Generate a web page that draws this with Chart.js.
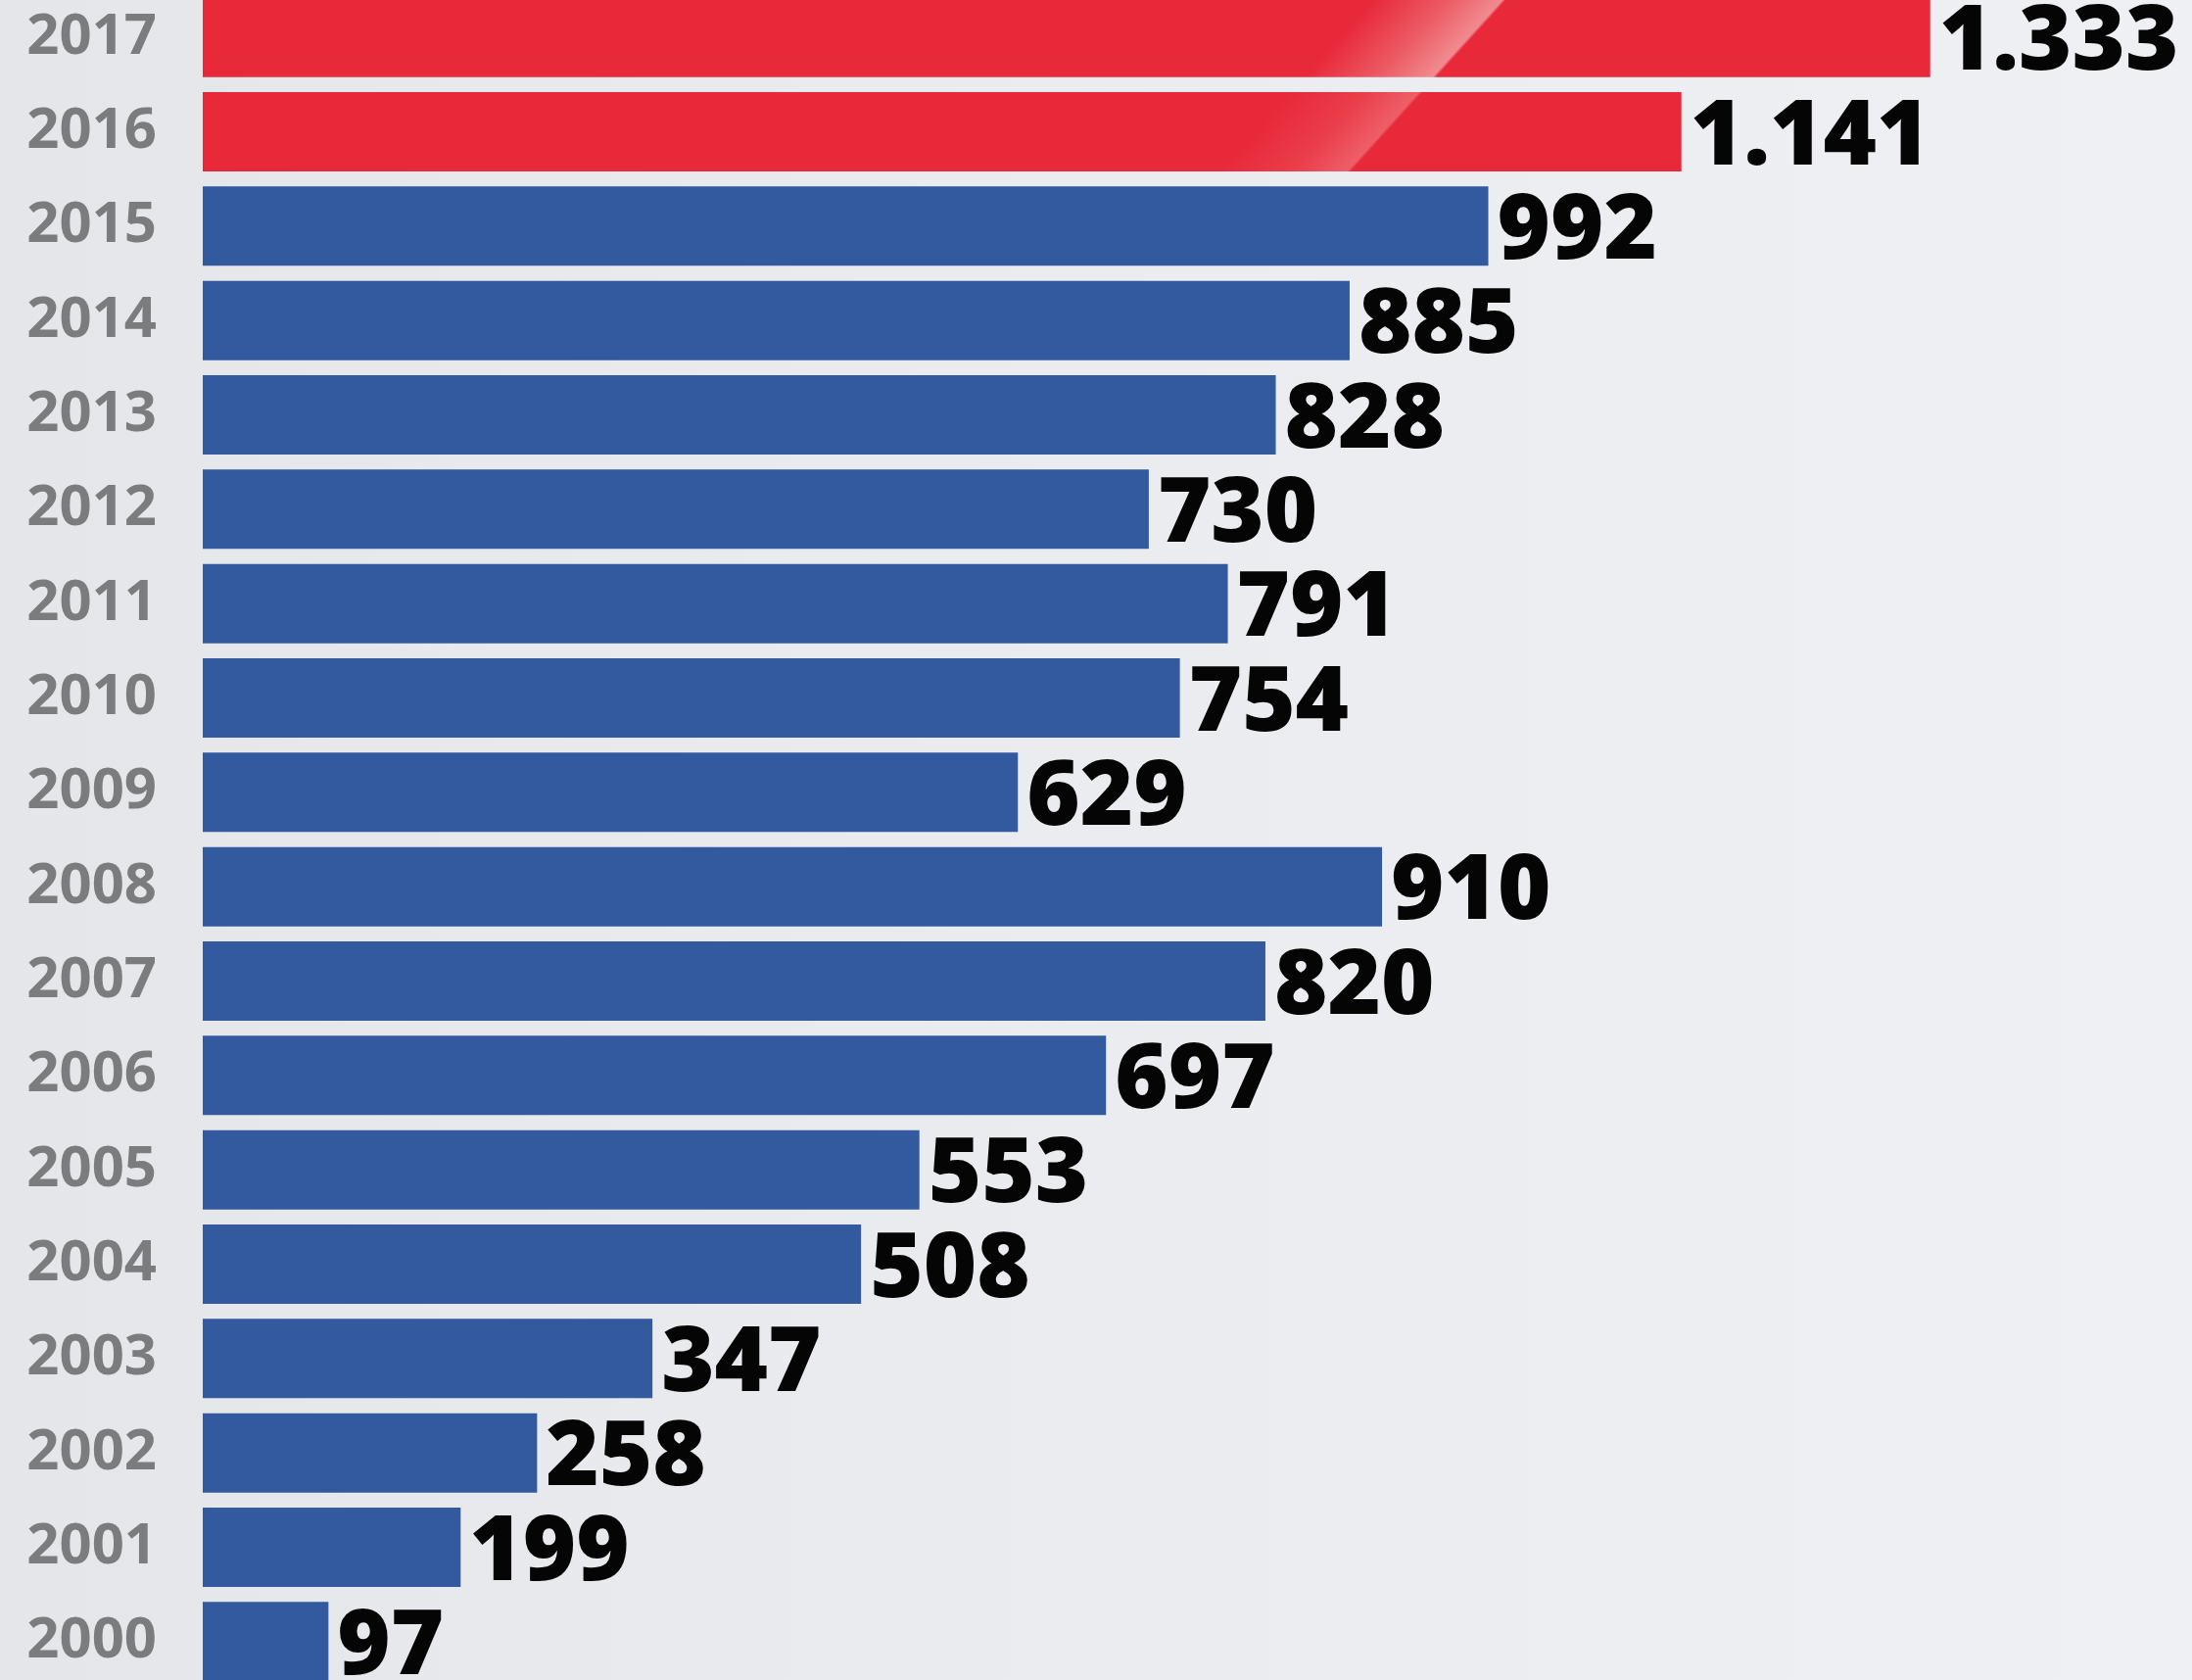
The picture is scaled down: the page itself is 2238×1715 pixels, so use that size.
<!DOCTYPE html>
<html>
<head>
<meta charset="utf-8">
<script src="https://cdn.jsdelivr.net/npm/chart.js@4.4.0/dist/chart.umd.min.js"></script>
<style>
  html, body { margin: 0; padding: 0; overflow: hidden; }
  body { width: 2238px; height: 1715px; position: relative;
         background: linear-gradient(90deg, #e5e6e9 0%, #eaebee 40%, #eff0f3 100%); }
  #wrap { position: absolute; left: 0; top: -10px; width: 2238px; height: 1734px; }
</style>
</head>
<body>
<div id="wrap"><canvas id="chart" width="2238" height="1734"></canvas></div>
<script>
// ── Data ──────────────────────────────────────────────────────
const years  = ['2017', '2016', '2015', '2014', '2013', '2012', '2011', '2010', '2009',
                '2008', '2007', '2006', '2005', '2004', '2003', '2002', '2001', '2000'];
const counts = [1333, 1141, 992, 885, 828, 730, 791, 754, 629,
                910, 820, 697, 553, 508, 347, 258, 199, 97];
const highlightYears = ['2017', '2016'];

const RED  = '#e8293a';
const BLUE = '#33599e';

// 1333 -> "1.333"
const fmt = n => String(n).replace(/\B(?=(\d{3})+(?!\d))/g, '.');

// red bars get a diagonal glare stripe, fainter on the second one
function barFill(c) {
  const y = years[c.dataIndex];
  if (!highlightYears.includes(y)) return BLUE;
  const g = c.chart.ctx.createLinearGradient(1403, 10, 1477, 77);
  const top = c.dataIndex === 0;
  g.addColorStop(0, RED);
  g.addColorStop(0.55, top ? '#ec5a63' : '#ea3d4a');
  g.addColorStop(0.97, top ? '#f18b90' : '#ee5f68');
  g.addColorStop(1, RED);
  return g;
}

// ── Value labels at bar ends ──────────────────────────────────
const valueLabels = {
  id: 'valueLabels',
  afterDatasetsDraw(chart) {
    const { ctx } = chart;
    const meta = chart.getDatasetMeta(0);
    ctx.save();
    ctx.font = '800 93px "Open Sans"';
    ctx.fillStyle = '#050505';
    ctx.textAlign = 'left';
    ctx.textBaseline = 'alphabetic';
    meta.data.forEach((bar, i) => {
      ctx.fillText(fmt(counts[i]), bar.x + 9, bar.y + 33);
    });
    ctx.restore();
  }
};

new Chart(document.getElementById('chart'), {
  type: 'bar',
  data: {
    labels: years,
    datasets: [{
      data: counts,
      backgroundColor: barFill,
      borderWidth: 0,
      categoryPercentage: 1,
      barPercentage: 0.84,
    }]
  },
  options: {
    indexAxis: 'y',
    responsive: false,
    animation: false,
    devicePixelRatio: 1,
    layout: { padding: 0 },
    plugins: { legend: { display: false }, tooltip: { enabled: false } },
    scales: {
      x: { display: false, min: 0, max: 1535 },
      y: {
        afterFit: s => { s.width = 207; s.paddingTop = 0; s.paddingBottom = 0; },
        border: { display: false },
        grid: { display: false, drawTicks: false },
        ticks: {
          padding: 47,
          color: '#7b7c7d',
          font: { family: '"Open Sans"', weight: 'bold', size: 58 }
        }
      }
    }
  },
  plugins: [valueLabels]
});
</script>
</body>
</html>
